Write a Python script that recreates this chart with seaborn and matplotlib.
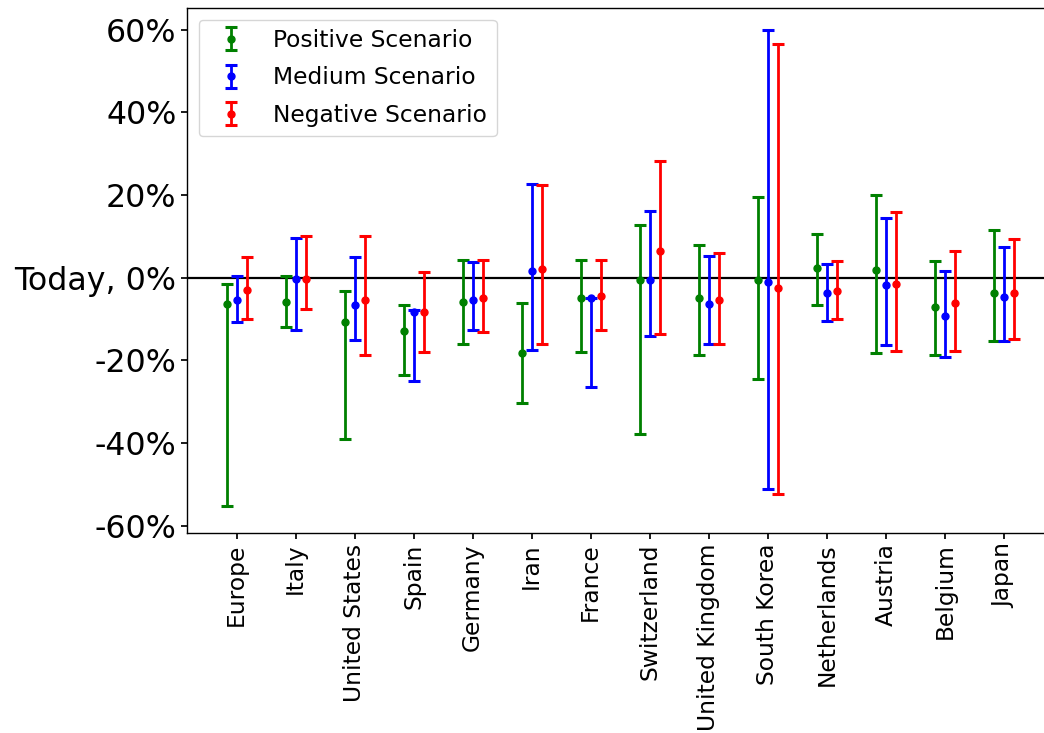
import numpy as np
import pandas as pd
import seaborn as sns
import matplotlib
matplotlib.use("Agg")
import matplotlib.pyplot as plt
from matplotlib.ticker import FixedLocator, FixedFormatter

# Countries on the x axis
countries = ["Europe", "Italy", "United States", "Spain", "Germany", "Iran",
             "France", "Switzerland", "United Kingdom", "South Korea",
             "Netherlands", "Austria", "Belgium", "Japan"]

# Central estimate, lower bound and upper bound (in %) for each scenario
positive_mid = [-6.3, -5.9, -10.6, -12.9, -5.9, -18.1, -5.0, -0.6, -5.0, -0.6, 2.3, 1.9, -7.0, -3.7]
positive_low = [-55.3, -11.8, -39.1, -23.6, -16.0, -30.2, -17.9, -37.7, -18.8, -24.4, -6.5, -18.2, -18.6, -15.4]
positive_high = [-1.5, 0.5, -3.2, -6.6, 4.3, -6.0, 4.3, 12.8, 8.0, 19.4, 10.5, 20.0, 4.1, 11.6]

medium_mid = [-5.4, -0.2, -6.7, -8.2, -5.4, 1.7, -4.8, -0.6, -6.3, -1.1, -3.7, -1.8, -9.3, -4.6]
medium_low = [-10.8, -12.7, -15.1, -25.0, -12.7, -17.4, -26.4, -14.1, -16.0, -51.0, -10.4, -16.2, -19.1, -15.4]
medium_high = [0.5, 9.7, 4.9, -7.9, 3.9, 22.7, -4.8, 16.1, 5.3, 60.0, 3.2, 14.4, 1.7, 7.5]

negative_mid = [-3.0, -0.2, -5.4, -8.2, -5.0, 2.2, -4.5, 6.5, -5.4, -2.6, -3.3, -1.4, -6.1, -3.7]
negative_low = [-9.9, -7.6, -18.8, -17.9, -13.2, -16.0, -12.7, -13.6, -16.0, -52.4, -10.0, -17.7, -17.7, -14.9]
negative_high = [4.9, 10.1, 10.1, 1.5, 4.3, 22.3, 4.3, 28.3, 6.0, 56.5, 4.1, 15.9, 6.4, 9.4]

scenario_names = ["Positive Scenario", "Medium Scenario", "Negative Scenario"]
scenario_colors = ["green", "blue", "red"]

y_ticks = [-60, -40, -20, 0, 20, 40, 60]
y_tick_labels = ["-60%", "-40%", "-20%", "Today, 0%", "20%", "40%", "60%"]

# Long-form table of all intervals
frames = []
for name, mid, low, high in zip(
        scenario_names,
        [positive_mid, medium_mid, negative_mid],
        [positive_low, medium_low, negative_low],
        [positive_high, medium_high, negative_high]):
    frames.append(pd.DataFrame({"country": countries, "scenario": name,
                                "mid": mid, "low": low, "high": high}))
df = pd.concat(frames, ignore_index=True)

sns.set_theme(style="ticks", rc={
    "axes.edgecolor": "black",
    "axes.linewidth": 1.0,
    "xtick.color": "black",
    "ytick.color": "black",
    "text.color": "black",
    "axes.labelcolor": "black",
    "xtick.major.size": 4,
    "ytick.major.size": 4,
})
plt.rcParams["font.family"] = ["DejaVu Sans"]

fig = plt.figure(figsize=(10.44, 7.33), dpi=100)
ax = fig.add_axes([0.1791, 0.2729, 0.830, 0.7162])

offsets = [-0.17, 0.0, 0.17]
base = np.arange(len(countries))
for name, color, off in zip(scenario_names, scenario_colors, offsets):
    sub = df[df["scenario"] == name]
    mid = sub["mid"].to_numpy()
    yerr = np.vstack([mid - sub["low"].to_numpy(), sub["high"].to_numpy() - mid])
    ax.errorbar(base + off, mid, yerr=yerr, fmt="o", color=color,
                ecolor=color, elinewidth=2.0, capsize=4.5, capthick=2.2,
                markersize=5, label=name)

ax.axhline(0, color="black", linewidth=1.6, zorder=0)

ax.set_xlim(-0.84, 13.84)
ax.set_ylim(-61.7, 65.2)
ax.spines["right"].set_visible(False)
ax.xaxis.set_major_locator(FixedLocator(base))
ax.xaxis.set_major_formatter(FixedFormatter(countries))
ax.yaxis.set_major_locator(FixedLocator(y_ticks))
ax.yaxis.set_major_formatter(FixedFormatter(y_tick_labels))
ax.tick_params(axis="x", labelsize=16.8, labelrotation=90)
ax.tick_params(axis="y", labelsize=22.8)
ax.set_xlabel("")
ax.set_ylabel("")

ax.legend(loc="upper left", fontsize=16.8, frameon=True, framealpha=0.8,
          edgecolor="#cccccc", fancybox=True, labelspacing=0.62)

fig.savefig("out.png", dpi=100)
